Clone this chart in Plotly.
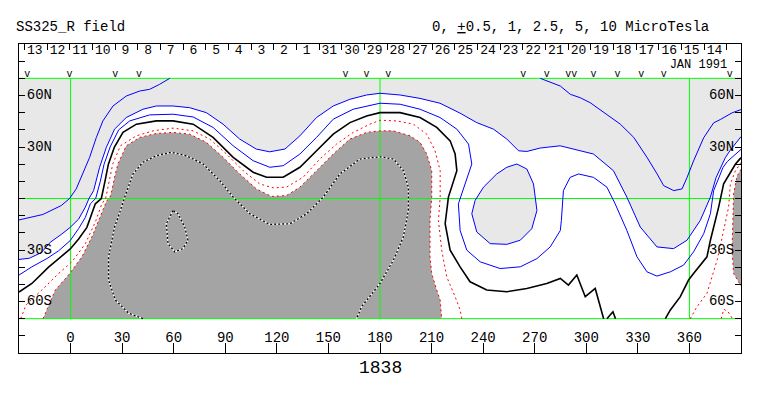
import plotly.graph_objects as go

# ---------------- data (lon, lat) ----------------
B3A_LON = [-30, -16.1, -5.4, -0.6, 3.3, 7.2, 11.1, 15.0, 18.8, 24.7, 32.4, 40.2, 46.0, 51.8, 57.7]
B3A_LAT = [-12.5, -9.3, -4.1, 0, 5.6, 14.3, 24.0, 35.6, 45.2, 53.9, 59.7, 62.6, 63.6, 66.5, 70]
B3B_LON = [273.2, 284.9, 290.7, 296.5, 302.3, 312.0, 319.8, 327.6, 335.3, 341.2, 345.0, 350.9, 355.7,
           358.6, 362.4, 368.3, 374.1, 378.0, 384.8, 390]
B3B_LAT = [70, 65.5, 60.7, 58.7, 55.8, 49.1, 43.3, 35.6, 24.0, 14.3, 7.5, 4.6, 5.6,
           12.2, 21.9, 35.4, 44.1, 46.0, 49.9, 51.8]

B2_LON = [-30, -24, -17, -11.8, -5.1, -0.2, 4.7, 8.6, 10.7, 13.4, 16.9, 20.8, 25.6, 32.4, 42.1, 49.9,
          59.6, 69.3, 79.0, 88.7, 98.4, 108.0, 115.8, 124.7, 133.4, 143.1, 152.8, 162.5, 172.2, 180,
          191.7, 203.3, 214.9, 226.6, 236.3, 246, 253.8, 260.6, 265.4, 273.2, 284.8, 304.2, 315.8,
          323.6, 331.4, 341.1, 350.8, 358.6, 366.3, 372.2, 375.5, 378.5, 381, 384, 387, 390]
B2_LAT = [-35.5, -34.8, -31.5, -25.5, -20.7, -16.8, -12, -5, 0, 4.6, 18.2, 29.8, 40.4, 47.2, 52.0, 53.9,
          53.9, 52.9, 50.0, 43.3, 34.6, 28.8, 27.2, 28.8, 36.5, 47.2, 53.9, 57.8, 60.3, 61.3,
          60.3, 58.3, 55.5, 49.7, 44.2, 40.4, 34.6, 27.8, 27.4, 29.4, 30.7, 25.9, 16.2,
          0.8, -16.6, -28.2, -29.2, -24.3, -12.8, 0.8, 12.2, 19, 24, 28.5, 32.5, 36]
B2_ISLAND_LON = [259.6, 265.4, 269.3, 271.3, 268.3, 261.6, 253.8, 244.1, 236.3, 233.4, 235.3, 240.2, 247.9, 253.8, 259.6]
B2_ISLAND_LAT = [20.1, 17.2, 8.5, -7, -17.6, -24.3, -26.7, -26.3, -19.5, -8.9, -1.2, 6.6, 14.3, 18.2, 20.1]

B1_LON = [-30, -22.5, -13.8, -7, -0.2, 4.7, 8.6, 11.5, 14.6, 17.3, 19.5, 23, 28, 34.4, 46, 59.6, 71.3,
          82.9, 94.6, 106.2, 115.9, 123.7, 133.4, 143.1, 152.8, 164.4, 180, 191.7, 203.3, 214.9, 224.7,
          231.5, 233.4, 229.5, 225.6, 226.6, 230.5, 238.3, 249.9, 261.6, 271.3, 279, 284.9, 285.5,
          286.7, 290.6, 295.5, 304.2, 312, 316.8, 323.6, 329.5, 335.3, 341.1, 348.9, 356.6, 362.4,
          368.3, 372.2, 374.1, 377, 379.5, 382, 385.7, 390]
B1_LAT = [-44.6, -39.8, -35, -30.5, -24.5, -17.5, -11, -3.1, 0, 10, 20, 30, 40, 45.2, 48.7, 49.1, 47.5,
          41.4, 30.7, 22, 18.2, 19.1, 25.9, 35.6, 46.2, 52, 55.5, 54.9, 52, 47.2, 40.4,
          31.7, 20.1, 8.5, -3.1, -18.6, -30.1, -36.9, -40.8, -39.8, -35, -28.2, -18.6, -12.8,
          4.6, 12.3, 14.3, 12.3, 6.6, -3.1, -18.6, -34, -42.7, -45.2, -42.7, -38.8, -31.1,
          -20.5, -8.9, 4.6, 12.2, 18, 21.5, 24.7, 28.6]

K_LON = [-30, -22.5, -12.8, -5.1, -0.2, 4.7, 9.5, 14.4, 17.9, 20, 22, 25.5, 30.5, 38.3, 49.9, 59.6,
         71.3, 82.9, 94.6, 106.2, 114, 123.7, 133.4, 143.1, 152.8, 162.5, 172.2, 180, 191.7, 203.3,
         213, 220.8, 223.7, 224.7, 219.8, 217.9, 220.8, 226.6, 232.4, 242.1, 253.8, 265.4, 277,
         284.9, 289.6, 294.5, 299.4, 305.2, 310.1, None, 312, 315.5, 317,
         None, 346, 348.9, 354.7, 359.5, 362.4, 370.2, 372.2, 377, 379.9, 383, 386.7, 390]
K_LAT = [-54.5, -49.5, -40, -33.2, -29.4, -23.6, -16.8, -3.1, 0, 10, 20, 30, 38.5, 43.3, 45.2, 45.2,
         43.3, 35.6, 24, 15.3, 12.4, 12.4, 18.2, 27.8, 37.5, 44.2, 48.1, 50, 50, 47.2,
         41.4, 33.6, 25.9, 16.2, 0.8, -14.7, -30.1, -39.8, -48.5, -53.3, -54.3, -52.4, -49.5,
         -46.6, -50.4, -44.6, -57.2, -52.4, -70, None, -70, -66, -70,
         None, -70, -64.9, -57.2, -47.5, -43.7, -34, -24.3, -5, 8.5, 14, 19.9, 23.8]

R1_LON = [-29, -25.9, -16.7, -7, 0.8, 8.6, 14.4, 18.2, 20.4, 22.5, 24.5, 29, 38.3, 48, 59.6, 71.3, 81,
          90.7, 100.4, 110, 117.9, 125.6, 135.3, 145, 154.7, 164.4, 174.1, 180, 189.7, 199.4, 207.2,
          212, 215, 215, 214, 215.9, 218.8, 223.7, 226.6, 227.6,
          None, 360.5, 364.4, 370.2, 376.1, 379.9, 382.8, 383.8, 386.7, 390,
          None, 378.5, 380, 382.5, 385]
R1_LAT = [-70, -62, -53.3, -43.7, -36.9, -26.3, -13.7, -3.1, 0, 10, 20, 30.7, 36.5, 39.4, 41, 39.4, 34.6,
          25.9, 16.2, 8.5, 6.2, 6.6, 12.4, 23, 31.7, 38.5, 43.3, 45.6, 45.2, 43.3, 37.5,
          27.8, 16.2, 0.8, -12.8, -30.1, -45.6, -57.2, -64.9, -70,
          None, -70, -63, -55.3, -35.9, -18.6, -5, 8.5, 16, 21,
          None, -70, -64.5, -66, -70]

G_LON = [-16, -8.9, -1.2, 6.6, 12.4, 17.3, 21.1, 22.7, 24, 25.5, 27.5, 32.4, 40.2, 49.9, 59.6, 69.3,
         79, 88.7, 98.4, 108.1, 116.9, 125.6, 133.4, 143.1, 152.8, 162.5, 172.2, 180, 187.8, 197.5,
         203.3, 207.2, 210.1, 210.1, 209.1, 209.1, 210.1, 213, 215, 215.9]
G_LAT = [-70, -53.3, -44.6, -34, -22.4, -10.8, -1.2, 0, 4.6, 12, 20, 30.7, 35.6, 37.9, 38.5, 37.5,
         32.7, 24, 14.3, 5.6, 1.2, 1.7, 6.6, 16.2, 25.9, 34.6, 38.5, 39.4, 39.4, 36.5,
         32.7, 25.9, 16.2, 0.8, -12.8, -34, -43.7, -53.3, -59.1, -70]
G2_LON = [390, 387.7, 385.7, 385.4, 384.8, 385.7, 389.6, 390]
G2_LAT = [17, 13, 2.7, -14.7, -30.1, -43.7, -50.4, -51]

D_LON = [42.1, 33.8, 26, 22.1, 22.1, 25.6, 29, 31.5, 36.3, 42.1, 49.9, 58.6, 67.4, 77.1, 86.8, 94.6,
         104.3, 115.9, 127.6, 137.3, 147, 156.7, 168.3, 180, 187.8, 193.6, 196.5, 196.5, 193.6,
         187.8, 180, 174.2, 169.3, 166.4,
         None, 59.6, 55.7, 56.7, 60.6, 65.4, 68.3, 66.4, 62.5, 59.6]
D_LAT = [-70, -66.8, -59.1, -47.5, -34, -16.6, -7, 0.8, 14.3, 21.1, 24.9, 26.9, 24.9, 20.1, 10.4, 0.8,
         -8.9, -15.1, -14.7, -8.9, 0.8, 14.3, 23, 24.3, 23, 16.2, 6.6, -7, -22.4,
         -35.9, -49.5, -57.2, -63, -70,
         None, -7, -14.7, -26.3, -31.1, -29.2, -24.3, -16.6, -8.9, -7]

GRID_LATS = [70, 0, -70]
GRID_LONS = [0, 180, 360]
LON_TICKS = [0, 30, 60, 90, 120, 150, 180, 210, 240, 270, 300, 330, 360]
LAT_TICKS = [-80, -70, -60, -50, -40, -30, -20, -10, 0, 10, 20, 30, 40, 50, 60, 70, 80]
LAT_LABEL_VALS = [60, 30, -30, -60]
LAT_LABELS = ["60N", "30N", "30S", "60S"]
DAYS = [13, 12, 11, 10, 9, 8, 7, 6, 5, 4, 3, 2, 1, 31, 30, 29, 28, 27, 26, 25, 24, 23, 22, 21, 20,
        19, 18, 17, 16, 15, 14]
DAY_START_LON = -26.8
DAY_STEP = 13.18
V_LONS = [-25.2, -0.6, 26, 39.8, 160, 172.2, 184.8, 263.4, 277, 289.5, 293, 304.2, 318.2, 332, 345, 383.4]

FONT = "Liberation Mono, Courier New, monospace"
LIGHT = "#e8e8e8"
DARK = "#a4a4a4"
GREEN = "#00ff00"
BLUE = "#0000ff"
RED = "#ff0000"

fig = go.Figure()

def line(x, y, color, width=1, dash=None, xaxis="x"):
    fig.add_trace(go.Scatter(x=x, y=y, mode="lines", xaxis=xaxis,
                             line=dict(color=color, width=width, dash=dash),
                             hoverinfo="skip", showlegend=False))

def poly(x, y, color):
    fig.add_trace(go.Scatter(x=x, y=y, mode="lines", fill="toself", fillcolor=color,
                             line=dict(width=0, color=color), hoverinfo="skip", showlegend=False))

# fills
poly([-30] + B2_LON + [390], [70] + B2_LAT + [70], LIGHT)
poly(B2_ISLAND_LON, B2_ISLAND_LAT, LIGHT)
poly(G_LON, G_LAT, DARK)
poly(G2_LON + [390], G2_LAT + [17], DARK)

# green reference lines
gx, gy = [], []
for la in GRID_LATS:
    gx += [-30, 390, None]
    gy += [la, la, None]
for lo in GRID_LONS:
    gx += [lo, lo, None]
    gy += [-70, 70, None]
line(gx, gy, GREEN, 1)

# contours
line(B3A_LON + [None] + B3B_LON, B3A_LAT + [None] + B3B_LAT, BLUE, 1)
line(B2_LON + [None] + B2_ISLAND_LON, B2_LAT + [None] + B2_ISLAND_LAT, BLUE, 1)
line(B1_LON, B1_LAT, BLUE, 1)
line(K_LON, K_LAT, "black", 1.6)
line(R1_LON, R1_LAT, RED, 1, "2px,3px")
line(G_LON + [None] + G2_LON, G_LAT + [None] + G2_LAT, RED, 1, "2px,3px")
line(D_LON, D_LAT, "white", 1.3)
line(D_LON, D_LAT, "black", 1.3, "2px,2px")

# labels
fig.add_trace(go.Scatter(x=[-25.5] * 4, y=LAT_LABEL_VALS, text=LAT_LABELS, mode="text",
                         textposition="middle right", textfont=dict(family=FONT, size=14, color="black"),
                         hoverinfo="skip", showlegend=False))
fig.add_trace(go.Scatter(x=[386] * 4, y=LAT_LABEL_VALS, text=LAT_LABELS, mode="text",
                         textposition="middle left", textfont=dict(family=FONT, size=14, color="black"),
                         hoverinfo="skip", showlegend=False))
fig.add_trace(go.Scatter(x=LON_TICKS, y=[-81.5] * len(LON_TICKS), text=[str(v) for v in LON_TICKS],
                         mode="text", textposition="middle center",
                         textfont=dict(family=FONT, size=14, color="black"),
                         hoverinfo="skip", showlegend=False))
day_ticks = [DAY_START_LON + DAY_STEP * k for k in range(len(DAYS) + 1)]
day_centers = [DAY_START_LON + DAY_STEP * (k + 0.5) - 0.6 for k in range(len(DAYS))]
fig.add_trace(go.Scatter(x=day_centers, y=[86.2] * len(DAYS), text=[str(d) for d in DAYS],
                         mode="text", textposition="middle center", xaxis="x2",
                         textfont=dict(family=FONT, size=13, color="black"),
                         hoverinfo="skip", showlegend=False, cliponaxis=False))
fig.add_trace(go.Scatter(x=[382], y=[77.5], text=["JAN 1991"], mode="text", textposition="middle left",
                         textfont=dict(family=FONT, size=12, color="black"),
                         hoverinfo="skip", showlegend=False))
fig.add_trace(go.Scatter(x=V_LONS, y=[72] * len(V_LONS), text=["v"] * len(V_LONS), mode="text",
                         textposition="middle center", textfont=dict(family=FONT, size=10, color="black"),
                         hoverinfo="skip", showlegend=False))
fig.add_trace(go.Scatter(x=[-31.2], y=[-7.5], text=[">"], mode="text", textposition="middle center",
                         textfont=dict(family=FONT, size=10, color=GREEN),
                         hoverinfo="skip", showlegend=False, cliponaxis=False))

# page body has an 8px margin: figure 747x380 placed at (8,8) -> plot frame at page (19..741, 44..353)
fig.update_layout(
    width=747, height=380,
    margin=dict(l=11, r=14, t=36, b=35, autoexpand=False),
    paper_bgcolor="white", plot_bgcolor="white",
    showlegend=False, hovermode=False,
    xaxis=dict(range=[-30, 390], showgrid=False, zeroline=False, showticklabels=False,
               ticks="inside", tickvals=LON_TICKS, ticklen=10, tickcolor="black", tickwidth=1,
               showline=True, mirror=True, linecolor="black", linewidth=1),
    xaxis2=dict(range=[-30, 390], overlaying="x", side="top", anchor="y", showgrid=False,
                zeroline=False, showticklabels=False, ticks="inside", tickvals=day_ticks,
                ticklen=6, tickcolor="black", tickwidth=1, showline=False),
    yaxis=dict(range=[-90, 90], showgrid=False, zeroline=False, showticklabels=False,
               ticks="inside", tickvals=LAT_TICKS, ticklen=6, tickcolor="black", tickwidth=1,
               showline=True, mirror="ticks", linecolor="black", linewidth=1),
    annotations=[
        dict(text="SS325_R field", xref="paper", yref="paper", x=-0.007, y=1.055,
             xanchor="left", yanchor="middle", showarrow=False,
             font=dict(family=FONT, size=14, color="black")),
        dict(text="0, <u>+</u>0.5, 1, 2.5, 5, 10 MicroTesla", xref="paper", yref="paper",
             x=0.958, y=1.055, xanchor="right", yanchor="middle", showarrow=False,
             font=dict(family=FONT, size=14, color="black")),
        dict(text="1838", xref="x", yref="paper", x=180, y=-0.047, xanchor="center",
             yanchor="middle", showarrow=False, font=dict(family=FONT, size=18, color="black")),
    ],
)

fig.write_html("out.html")
